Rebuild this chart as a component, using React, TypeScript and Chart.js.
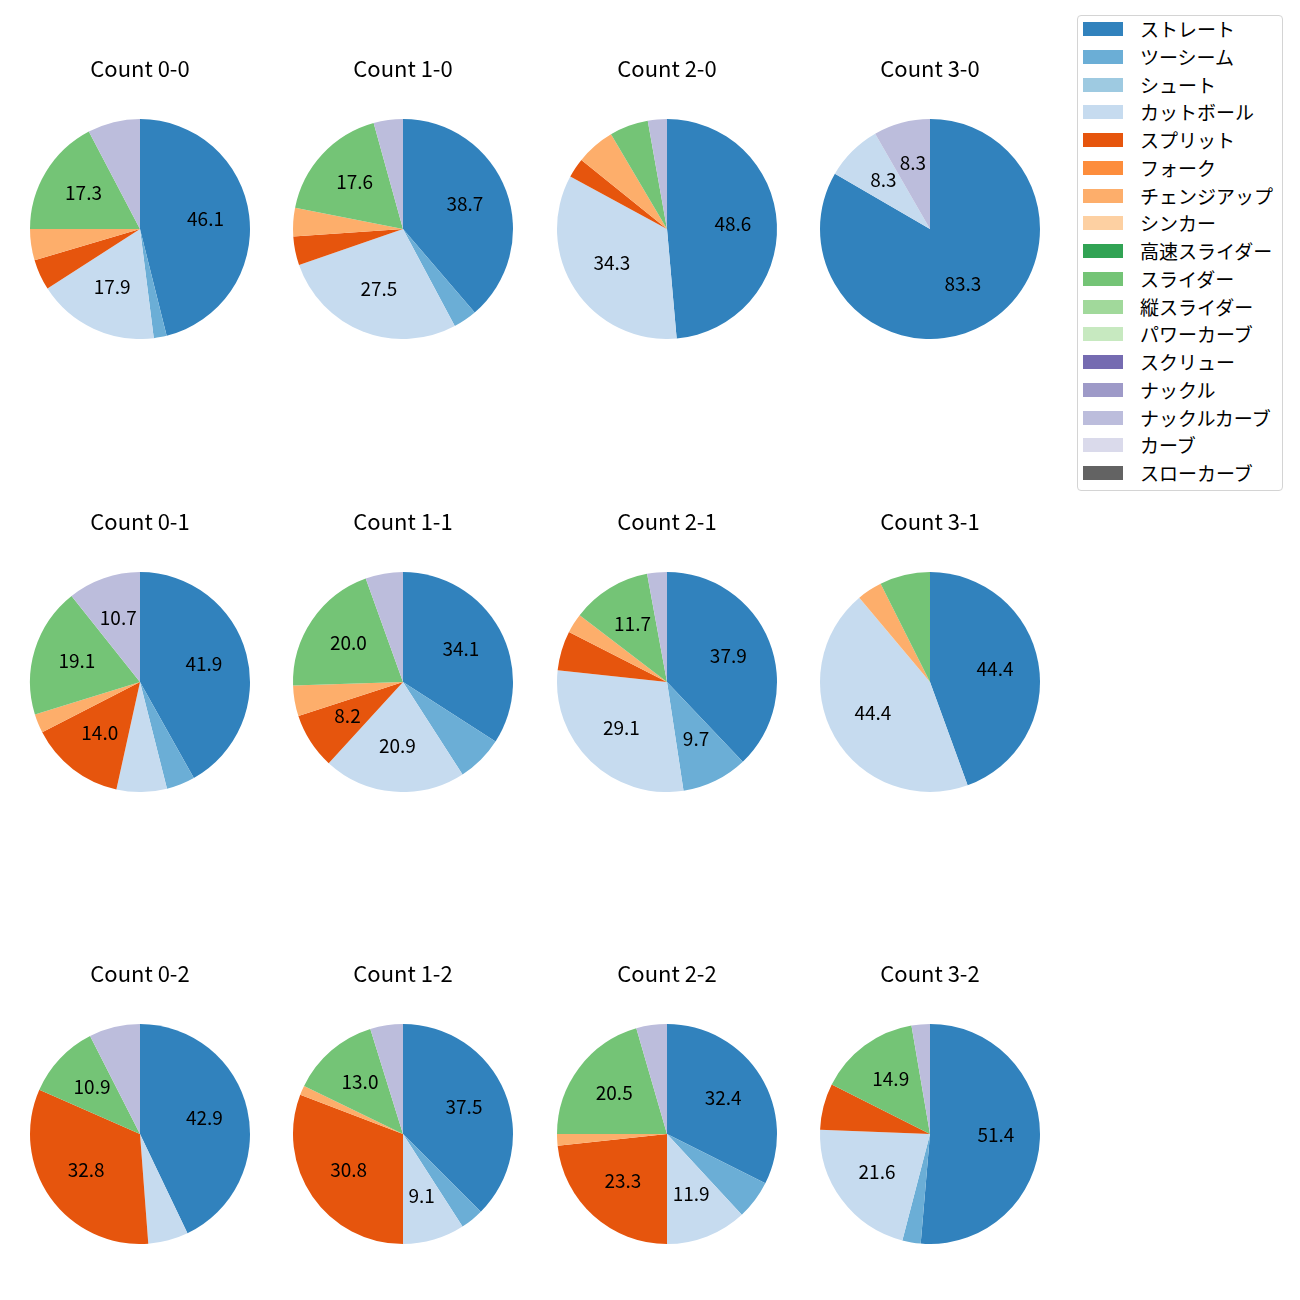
import React, { useEffect, useRef } from "react";
import { Chart, registerables } from "chart.js";

Chart.register(...registerables);

// ---------- data ----------
const pitchTypes = [
  "ストレート",
  "ツーシーム",
  "シュート",
  "カットボール",
  "スプリット",
  "フォーク",
  "チェンジアップ",
  "シンカー",
  "高速スライダー",
  "スライダー",
  "縦スライダー",
  "パワーカーブ",
  "スクリュー",
  "ナックル",
  "ナックルカーブ",
  "カーブ",
  "スローカーブ",
];

const countTitles = [
  "Count 0-0", "Count 1-0", "Count 2-0", "Count 3-0",
  "Count 0-1", "Count 1-1", "Count 2-1", "Count 3-1",
  "Count 0-2", "Count 1-2", "Count 2-2", "Count 3-2",
];

// percentages per pitch type (same order as pitchTypes)
const count00 = [46.1, 1.9, 0, 17.9, 4.5, 0, 4.6, 0, 0, 17.3, 0, 0, 0, 0, 7.7, 0, 0];
const count10 = [38.7, 3.5, 0, 27.5, 4.2, 0, 4.2, 0, 0, 17.6, 0, 0, 0, 0, 4.3, 0, 0];
const count20 = [48.6, 0, 0, 34.3, 2.9, 0, 5.7, 0, 0, 5.7, 0, 0, 0, 0, 2.8, 0, 0];
const count30 = [83.3, 0, 0, 8.3, 0, 0, 0, 0, 0, 0, 0, 0, 0, 0, 8.3, 0, 0];
const count01 = [41.9, 4.2, 0, 7.4, 14.0, 0, 2.8, 0, 0, 19.1, 0, 0, 0, 0, 10.7, 0, 0];
const count11 = [34.1, 6.8, 0, 20.9, 8.2, 0, 4.5, 0, 0, 20.0, 0, 0, 0, 0, 5.5, 0, 0];
const count21 = [37.9, 9.7, 0, 29.1, 5.8, 0, 2.9, 0, 0, 11.7, 0, 0, 0, 0, 2.9, 0, 0];
const count31 = [44.4, 0, 0, 44.4, 0, 0, 3.7, 0, 0, 7.4, 0, 0, 0, 0, 0, 0, 0];
const count02 = [42.9, 0, 0, 5.9, 32.8, 0, 0, 0, 0, 10.9, 0, 0, 0, 0, 7.5, 0, 0];
const count12 = [37.5, 3.4, 0, 9.1, 30.8, 0, 1.4, 0, 0, 13.0, 0, 0, 0, 0, 4.8, 0, 0];
const count22 = [32.4, 5.7, 0, 11.9, 23.3, 0, 1.7, 0, 0, 20.5, 0, 0, 0, 0, 4.5, 0, 0];
const count32 = [51.4, 2.7, 0, 21.6, 6.8, 0, 0, 0, 0, 14.9, 0, 0, 0, 0, 2.7, 0, 0];

const countValues = [
  count00, count10, count20, count30,
  count01, count11, count21, count31,
  count02, count12, count22, count32,
];

// ---------- style ----------
const colors = [
  "#3182bd", "#6baed6", "#9ecae1", "#c6dbef",
  "#e6550d", "#fd8d3c", "#fdae6b", "#fdd0a2",
  "#31a354", "#74c476", "#a1d99b", "#c7e9c0",
  "#756bb1", "#9e9ac8", "#bcbddc", "#dadaeb",
  "#636363",
];

const FONT = "'Noto Sans CJK JP', 'Noto Sans', sans-serif";
const LABEL_SIZE = 19;
const TITLE_SIZE = 22;
const LABEL_MIN = 8;
const LABEL_DY = -2;

const colCenters = [140, 403, 667, 930];
const rowCenters = [229, 682, 1134];
const RADIUS = 110;
const CANVAS_W = 240;
const TITLE_OFFSET = 160; // title centre above pie centre
const TITLE_LH = 24;
const TITLE_PAD_TOP = 5;
const CANVAS_TOP_OFFSET = TITLE_OFFSET + TITLE_PAD_TOP + TITLE_LH / 2; // 177
const CANVAS_H = CANVAS_TOP_OFFSET + RADIUS;
const TITLE_PAD_BOTTOM = CANVAS_TOP_OFFSET - RADIUS - TITLE_PAD_TOP - TITLE_LH;

const pctLabelPlugin = {
  id: "pctLabels",
  afterDatasetsDraw(chart: any) {
    const ctx = chart.ctx;
    const meta = chart.getDatasetMeta(0);
    const values = chart.data.datasets[0].data as number[];
    ctx.save();
    ctx.font = `${LABEL_SIZE}px ${FONT}`;
    ctx.fillStyle = "#000";
    ctx.textAlign = "center";
    ctx.textBaseline = "middle";
    meta.data.forEach((arc: any, i: number) => {
      const v = values[i];
      if (!(v >= LABEL_MIN)) return;
      const p = arc.getProps(["x", "y", "startAngle", "endAngle", "outerRadius"], true);
      const mid = (p.startAngle + p.endAngle) / 2;
      const r = p.outerRadius * 0.6;
      ctx.fillText(v.toFixed(1), p.x + Math.cos(mid) * r, p.y + Math.sin(mid) * r + LABEL_DY);
    });
    ctx.restore();
  },
};

function PieCell({ idx }: { idx: number }) {
  const ref = useRef<HTMLCanvasElement | null>(null);
  useEffect(() => {
    if (!ref.current) return;
    const chart = new Chart(ref.current, {
      type: "pie",
      data: {
        labels: pitchTypes,
        datasets: [
          {
            data: countValues[idx],
            backgroundColor: colors,
            borderWidth: 0,
            hoverOffset: 0,
          },
        ],
      },
      options: {
        animation: false,
        responsive: false,
        maintainAspectRatio: false,
        events: [],
        layout: { padding: 0 },
        plugins: {
          legend: { display: false },
          tooltip: { enabled: false },
          title: {
            display: true,
            text: countTitles[idx],
            color: "#000",
            font: { family: FONT, size: TITLE_SIZE, weight: "normal", lineHeight: `${TITLE_LH}px` },
            padding: { top: TITLE_PAD_TOP, bottom: TITLE_PAD_BOTTOM },
          },
        },
      },
      plugins: [pctLabelPlugin],
    });
    return () => chart.destroy();
  }, [idx]);
  const col = idx % 4;
  const row = Math.floor(idx / 4);
  return (
    <canvas
      ref={ref}
      width={CANVAS_W}
      height={CANVAS_H}
      style={{
        position: "absolute",
        left: colCenters[col] - CANVAS_W / 2,
        top: rowCenters[row] - CANVAS_TOP_OFFSET,
        width: CANVAS_W,
        height: CANVAS_H,
      }}
    />
  );
}

function Legend() {
  const top0 = 15;
  const firstRow = 29;
  const step = 27.75;
  return (
    <div
      style={{
        position: "absolute",
        left: 1077,
        top: top0,
        width: 206,
        height: 476,
        boxSizing: "border-box",
        border: "1px solid #d4d4d4",
        borderRadius: 4,
        background: "#fff",
        fontFamily: FONT,
        fontSize: LABEL_SIZE,
        color: "#000",
      }}
    >
      {pitchTypes.map((name, i) => {
        const cy = firstRow + i * step - top0 - 1;
        return (
          <React.Fragment key={name}>
            <div
              style={{
                position: "absolute",
                left: 1083 - 1077 - 1,
                top: cy - 7,
                width: 40,
                height: 14,
                background: colors[i],
              }}
            />
            <div
              style={{
                position: "absolute",
                left: 1140 - 1077 - 1,
                top: cy - 14,
                height: 28,
                lineHeight: "28px",
                whiteSpace: "nowrap",
              }}
            >
              {name}
            </div>
          </React.Fragment>
        );
      })}
    </div>
  );
}

export default function App() {
  return (
    <div
      style={{
        position: "absolute",
        left: 0,
        top: 0,
        width: 1300,
        height: 1300,
        background: "#fff",
        overflow: "hidden",
      }}
    >
      {countTitles.map((_, i) => (
        <PieCell key={i} idx={i} />
      ))}
      <Legend />
    </div>
  );
}
